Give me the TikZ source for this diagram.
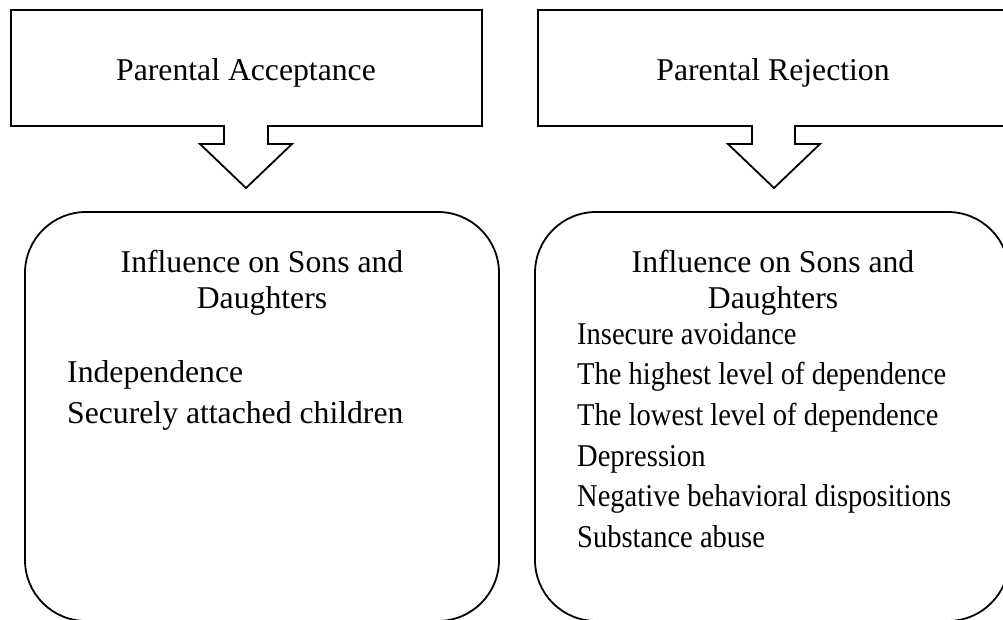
\documentclass[tikz,border=0pt]{standalone}
\usepackage{fontspec}
\usepackage{graphicx}
\setmainfont{Liberation Serif}
\begin{document}
\begin{tikzpicture}[x=1pt,y=-1pt,
  outline/.style={draw=black,line width=1.8pt,line join=miter},
  txt/.style={inner sep=0pt,font=\fontsize{31.7}{36}\selectfont},
  title/.style={txt,anchor=base},
  item/.style={txt,anchor=base west}]
\useasboundingbox (0,0) rectangle (1003,619);
\clip (0,0) rectangle (1003,619);

% callout: parental acceptance
\draw[outline] (11,10) -- (482,10) -- (482,126) -- (268,126) -- (268,144)
  -- (292,144) -- (246,188) -- (200,144) -- (224,144) -- (224,126)
  -- (11,126) -- cycle;
\node[title] (acc) at (246,80) {Parental Acceptance};

% callout: parental rejection
\draw[outline] (538,10) -- (1010,10) -- (1010,126) -- (795,126) -- (795,144)
  -- (820,144) -- (774,188) -- (728,144) -- (752,144) -- (752,126)
  -- (538,126) -- cycle;
\node[title] (rej) at (773,80) {Parental Rejection};

% rounded result boxes
\draw[outline,rounded corners=61pt] (25,212) rectangle (499,621);
\draw[outline,rounded corners=61pt] (535,212) rectangle (1009,621);

% left box text
\node[title] (lh1) at (262,272) {Influence on Sons and};
\node[title] (lh2) at (262,308) {Daughters};
\node[item] (l1) at (67,382) {Independence};
\node[item] (l2) at (67,423) {Securely attached children};

% right box text
\node[title] (rh1) at (773,272) {Influence on Sons and};
\node[title] (rh2) at (773,308) {Daughters};
\foreach \t [count=\i] in {Insecure avoidance,The highest level of dependence,
    The lowest level of dependence,Depression,
    Negative behavioral dispositions,Substance abuse}
  \node[item] (r\i) at (577,{344+40.7*(\i-1)}) {\scalebox{0.9}[1]{\t}};
\end{tikzpicture}
\end{document}
